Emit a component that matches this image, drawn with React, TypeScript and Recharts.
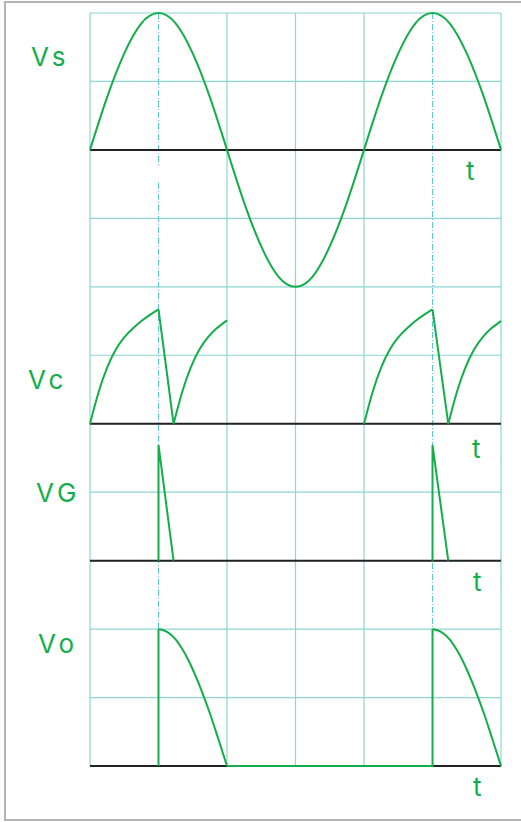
import { ComposedChart, Line, XAxis, YAxis, CartesianGrid, ReferenceLine } from "recharts"

const GREEN = "#14ad4b"
const GRID = "#8dd6d2"
const GUIDE = "#5ccbcd"
const FONT = "Inter, 'DejaVu Sans', sans-serif"

// one unit = one grid division; the firing instants (1 and 5) only get dashed guides
const GRID_T = [0, 2, 3, 4, 6]
const LEVELS = [0, 1, 2, 3, 4, 5, 6, 7, 8, 9, 10, 11]

// supply voltage, sampled every quarter division
const VS_T = [0, 0.25, 0.5, 0.75, 1, 1.25, 1.5, 1.75, 2, 2.25, 2.5, 2.75, 3, 3.25, 3.5, 3.75, 4, 4.25, 4.5, 4.75, 5, 5.25, 5.5, 5.75, 6]
const VS_V = [0, 0.77, 1.41, 1.85, 2, 1.85, 1.41, 0.77, 0, -0.77, -1.41, -1.85, -2, -1.85, -1.41, -0.77, 0, 0.77, 1.41, 1.85, 2, 1.85, 1.41, 0.77, 0]

// capacitor: charging ramps and the discharge when the SCR fires
const VC_RAMP_1 = [[0, 0], [0.125, 0.46], [0.25, 0.82], [0.375, 1.08], [0.5, 1.26], [0.625, 1.39], [0.75, 1.5], [0.875, 1.59], [1, 1.67]]
const VC_RAMP_2 = [[1.22, 0], [1.345, 0.46], [1.47, 0.82], [1.595, 1.08], [1.72, 1.26], [1.845, 1.39], [2, 1.51]]
const VC_RAMP_3 = [[4, 0], [4.125, 0.46], [4.25, 0.82], [4.375, 1.08], [4.5, 1.26], [4.625, 1.39], [4.75, 1.5], [4.875, 1.59], [5, 1.67]]
const VC_RAMP_4 = [[5.23, 0], [5.355, 0.46], [5.48, 0.82], [5.605, 1.08], [5.73, 1.26], [5.855, 1.39], [6, 1.5]]
const VC_FIRE_1 = [[1, 1.67], [1.22, 0]]
const VC_FIRE_2 = [[5, 1.67], [5.23, 0]]

// gate pulses
const VG_PULSE_1 = [[1, 0], [1, 1.69], [1.22, 0]]
const VG_PULSE_2 = [[5, 0], [5, 1.69], [5.23, 0]]

// load voltage: conduction from firing point to the zero crossing
const VO_ON_1 = [[1, 2], [1.125, 1.96], [1.25, 1.85], [1.375, 1.66], [1.5, 1.41], [1.625, 1.11], [1.75, 0.77], [1.875, 0.39], [2, 0]]
const VO_ON_2 = [[5, 2], [5.125, 1.96], [5.25, 1.85], [5.375, 1.66], [5.5, 1.41], [5.625, 1.11], [5.75, 0.77], [5.875, 0.39], [6, 0]]
const VO_STEP_1 = [[1, 0], [1, 2]]
const VO_OFF = [[2, 0], [5, 0], [5, 2]]

const pts = (rows: number[][]) => rows.map(([t, v]) => ({ t, v }))

const vsData = VS_T.map((t, i) => ({ t, v: VS_V[i] }))

const traces = [
  { key: "vs", axis: "vs", data: vsData, curve: "natural" },
  { key: "vc1", axis: "vc", data: pts(VC_RAMP_1), curve: "natural" },
  { key: "vc2", axis: "vc", data: pts(VC_RAMP_2), curve: "natural" },
  { key: "vc3", axis: "vc", data: pts(VC_RAMP_3), curve: "natural" },
  { key: "vc4", axis: "vc", data: pts(VC_RAMP_4), curve: "natural" },
  { key: "vcf1", axis: "vc", data: pts(VC_FIRE_1), curve: "linear" },
  { key: "vcf2", axis: "vc", data: pts(VC_FIRE_2), curve: "linear" },
  { key: "vg1", axis: "vg", data: pts(VG_PULSE_1), curve: "linear" },
  { key: "vg2", axis: "vg", data: pts(VG_PULSE_2), curve: "linear" },
  { key: "vo1", axis: "vo", data: pts(VO_ON_1), curve: "monotone" },
  { key: "vo2", axis: "vo", data: pts(VO_ON_2), curve: "monotone" },
  { key: "vos", axis: "vo", data: pts(VO_STEP_1), curve: "linear" },
  { key: "voo", axis: "vo", data: pts(VO_OFF), curve: "linear" },
]

// each trace gets its own band: the domains put its zero on the right grid line.
// "spans" are the stretches of the zero line drawn in black (Vo covers 2..5 itself)
const bands = [
  { id: "vs", domain: [-9, 2], name: "Vs", nameX: 31, nameDy: -84, tX: 466, tDy: 30, spans: [[0, 6]] },
  { id: "vc", domain: [-5, 6], name: "Vc", nameX: 28, nameDy: -35, tX: 472, tDy: 34, spans: [[0, 6]] },
  { id: "vg", domain: [-3, 8], name: "VG", nameX: 36, nameDy: -59, tX: 473, tDy: 30, spans: [[0, 6]] },
  { id: "vo", domain: [0, 11], name: "Vo", nameX: 38, nameDy: -113, tX: 473, tDy: 30, spans: [[0, 2], [5, 6]] },
]

const textStyle = { fill: GREEN, fontSize: 26, fontFamily: FONT, fontWeight: 400 }

function bandLabels(name: string, nameX: number, nameDy: number, tX: number, tDy: number) {
  return (props: any) => {
    const y = props.viewBox?.y ?? 0
    return (
      <g>
        <text x={nameX} y={y + nameDy} {...textStyle} letterSpacing={4}>{name}</text>
        <text x={tX} y={y + tDy} {...textStyle}>t</text>
      </g>
    )
  }
}

export default function App() {
  return (
    <div style={{ position: "absolute", left: 0, top: 0, width: 521, height: 822, background: "#fff" }}>
      <div
        style={{
          position: "absolute",
          left: 4,
          top: 1,
          width: 517,
          height: 820,
          boxSizing: "border-box",
          borderLeft: "2px solid #b4b4b4",
          borderTop: "2px solid #b4b4b4",
          borderBottom: "2px solid #b4b4b4",
        }}
      />
      <ComposedChart
        width={521}
        height={822}
        margin={{ top: 13, right: 20, bottom: 56, left: 90 }}
        style={{ position: "absolute", left: 0, top: 0 }}
      >
        <XAxis type="number" dataKey="t" domain={[0, 6]} ticks={GRID_T} hide />
        {bands.map((b) => (
          <YAxis
            key={b.id}
            yAxisId={b.id}
            type="number"
            domain={b.domain}
            ticks={b.id === "vo" ? LEVELS : undefined}
            hide
          />
        ))}
        <CartesianGrid yAxisId="vo" stroke={GRID} strokeWidth={1.2} />

        {/* firing-angle guides */}
        <ReferenceLine yAxisId="vo" segment={[{ x: 1, y: 11 }, { x: 1, y: 8.75 }]} stroke={GUIDE} strokeDasharray="6 2 1 2" zIndex={100} />
        <ReferenceLine yAxisId="vo" segment={[{ x: 1, y: 8.52 }, { x: 1, y: 2 }]} stroke={GUIDE} strokeDasharray="6 2 1 2" zIndex={100} />
        <ReferenceLine yAxisId="vo" segment={[{ x: 5, y: 11 }, { x: 5, y: 2 }]} stroke={GUIDE} strokeDasharray="6 2 1 2" zIndex={100} />

        {bands.map((b) =>
          b.spans.map(([a, z], i) => (
            <ReferenceLine
              key={"base-" + b.id + i}
              yAxisId={b.id}
              segment={[{ x: a, y: 0 }, { x: z, y: 0 }]}
              stroke="#222"
              strokeWidth={2}
              zIndex={200}
              label={i === 0 ? bandLabels(b.name, b.nameX, b.nameDy, b.tX, b.tDy) : undefined}
            />
          ))
        )}

        {traces.map((s) => (
          <Line
            key={s.key}
            yAxisId={s.axis}
            data={s.data}
            dataKey="v"
            type={s.curve as any}
            stroke={GREEN}
            strokeWidth={2}
            dot={false}
            activeDot={false}
            isAnimationActive={false}
            zIndex={1000}
          />
        ))}
      </ComposedChart>
    </div>
  )
}
